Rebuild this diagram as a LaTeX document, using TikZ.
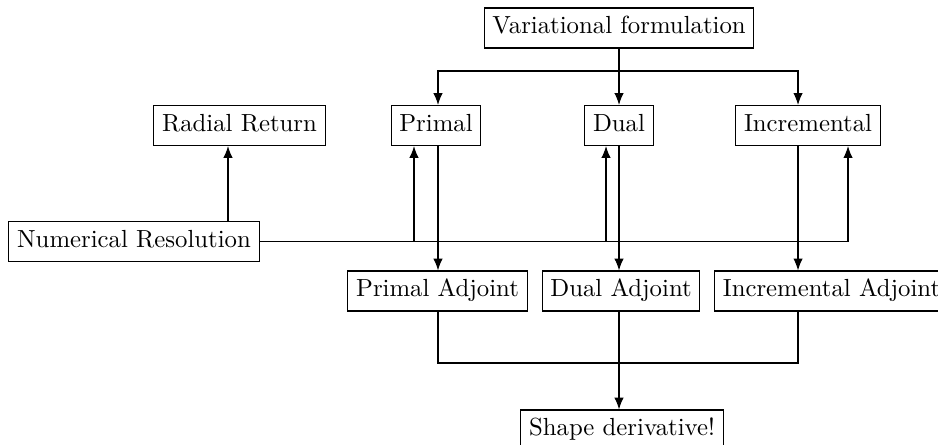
\documentclass[tikz,border=0pt]{standalone}
\usetikzlibrary{arrows.meta}
\begin{document}
\begin{tikzpicture}[x=0.404pt,y=-0.404pt,
  box/.style={draw,line width=0.45pt,inner sep=3.33pt,text height=7pt,text depth=2.5pt,font=\fontsize{10}{12}\selectfont},
  arr/.style={line width=0.45pt,-{Latex[length=4.8pt,width=3.8pt]}},
  ln/.style={line width=0.45pt}]
\useasboundingbox (0,0) rectangle (938,445);
% nodes
\node[box] (var) at (619,28) {Variational formulation};
\node[box] (radial) at (239.5,125.5) {Radial Return};
\node[box] (primal) at (436,125.5) {Primal};
\node[box] (dual) at (619,125.5) {Dual};
\node[box] (incr) at (808,125.5) {Incremental};
\node[box] (numres) at (134,241.5) {Numerical Resolution};
\node[box] (padj) at (437.5,291) {Primal Adjoint};
\node[box] (dadj) at (621,291) {Dual Adjoint};
\node[box,anchor=west] (iadj) at (714,291) {Incremental Adjoint};
\node[box] (shape) at (622,430) {Shape derivative!};
% column coordinates
\coordinate (cP) at (438,0);
\coordinate (cD) at (619,0);
\coordinate (cI) at (798,0);
\coordinate (uR) at (228,0);
\coordinate (uP) at (414,0);
\coordinate (uD) at (606,0);
\coordinate (uI) at (848,0);
\coordinate (split) at (619,71);
\coordinate (join) at (619,363);
% top distribution
\draw[arr] (var.south) -- (cD |- dual.north);
\draw[arr] (split) -| (cP |- primal.north);
\draw[arr] (split) -| (cI |- incr.north);
% formulations to adjoints
\draw[arr] (cP |- primal.south) -- (cP |- padj.north);
\draw[arr] (cD |- dual.south) -- (cD |- dadj.north);
\draw[arr] (cI |- incr.south) -- (cI |- iadj.north);
% numerical resolution
\draw[arr] (uR |- numres.north) -- (uR |- radial.south);
\draw[arr] (numres.east) -| (uI |- incr.south);
\draw[arr] (uP |- numres.east) -- (uP |- primal.south);
\draw[arr] (uD |- numres.east) -- (uD |- dual.south);
% adjoints to shape derivative
\draw[ln] (cP |- padj.south) |- (cI |- join) -- (cI |- iadj.south);
\draw[arr] (cD |- dadj.south) -- (cD |- shape.north);
\end{tikzpicture}
\end{document}
